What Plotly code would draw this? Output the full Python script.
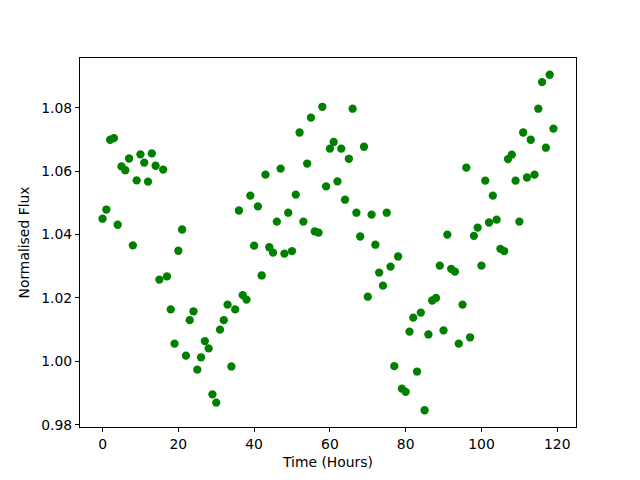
import plotly.graph_objects as go

time_hours = list(range(120))
flux = [
    1.0450, 1.0479, 1.0699, 1.0704, 1.0431, 1.0615, 1.0603, 1.0640, 1.0366, 1.0571,
    1.0653, 1.0627, 1.0567, 1.0656, 1.0617, 1.0258, 1.0605, 1.0268, 1.0164, 1.0056,
    1.0349, 1.0416, 1.0018, 1.0130, 1.0158, 0.9974, 1.0013, 1.0064, 1.0041, 0.9896,
    0.9870, 1.0100, 1.0130, 1.0179, 0.9984, 1.0164, 1.0476, 1.0209, 1.0195, 1.0523,
    1.0365, 1.0489, 1.0271, 1.0589, 1.0360, 1.0343, 1.0441, 1.0608, 1.0340, 1.0469,
    1.0348, 1.0526, 1.0722, 1.0441, 1.0624, 1.0769, 1.0410, 1.0406, 1.0803, 1.0552,
    1.0671, 1.0692, 1.0568, 1.0671, 1.0510, 1.0639, 1.0797, 1.0469, 1.0394, 1.0677,
    1.0204, 1.0463, 1.0368, 1.0280, 1.0239, 1.0469, 1.0299, 0.9985, 1.0331, 0.9914,
    0.9904, 1.0094, 1.0138, 0.9968, 1.0154, 0.9846, 1.0085, 1.0192, 1.0200, 1.0302,
    1.0098, 1.0400, 1.0292, 1.0283, 1.0056, 1.0179, 1.0611, 1.0076, 1.0396, 1.0422,
    1.0302, 1.0570, 1.0438, 1.0523, 1.0447, 1.0355, 1.0348, 1.0638, 1.0652, 1.0570,
    1.0441, 1.0722, 1.0580, 1.0699, 1.0589, 1.0797, 1.0881, 1.0674, 1.0904, 1.0734,
]
x_ticks = [0, 20, 40, 60, 80, 100, 120]
y_ticks = [0.98, 1.00, 1.02, 1.04, 1.06, 1.08]

xmin, xmax = min(time_hours), max(time_hours)
ymin, ymax = min(flux), max(flux)
xr = xmax - xmin
yr = ymax - ymin

fig = go.Figure(go.Scatter(
    x=time_hours, y=flux, mode="markers",
    marker=dict(color="#008000", size=8.3, line=dict(width=0)),
))

font = dict(family="DejaVu Sans", size=13.9, color="black")
axis_common = dict(
    showline=True, linecolor="black", linewidth=1, mirror=True,
    ticks="outside", ticklen=4, tickwidth=1, tickcolor="black",
    showgrid=False, zeroline=False, tickfont=font,
)
fig.update_layout(
    width=640, height=480,
    margin=dict(l=80, r=64, t=58, b=53, pad=0),
    paper_bgcolor="white", plot_bgcolor="white",
    showlegend=False, font=font,
    xaxis=dict(range=[xmin - 0.05 * xr, xmax + 0.05 * xr], tickvals=x_ticks,
               title=dict(text="Time (Hours)", font=font, standoff=6), **axis_common),
    yaxis=dict(range=[ymin - 0.05 * yr, ymax + 0.05 * yr], tickvals=y_ticks,
               tickformat=".2f",
               title=dict(text="Normalised Flux", font=font, standoff=8), **axis_common),
)
fig.write_html("out.html", config={"displayModeBar": False},
               post_script="document.body.style.margin='0';")
